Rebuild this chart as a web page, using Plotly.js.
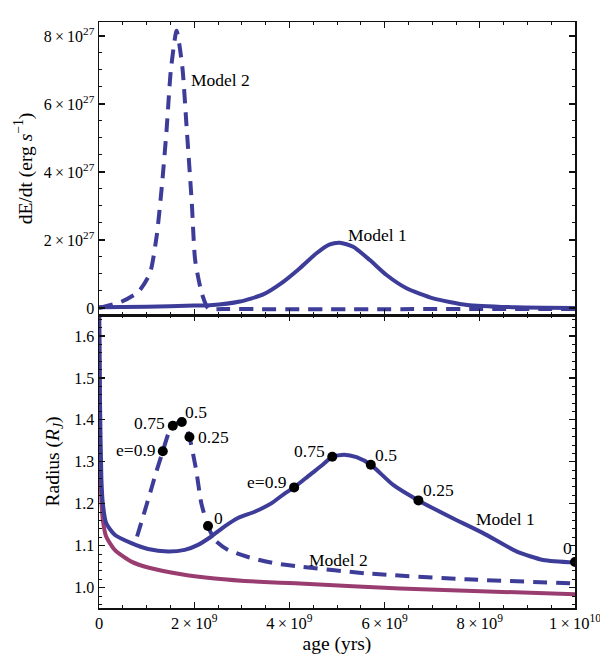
<!DOCTYPE html>
<html>
<head>
<meta charset="utf-8">
<script src="https://cdn.plot.ly/plotly-3.0.1.min.js"></script>
<style>
  html, body { margin: 0; padding: 0; background: #fff; }
  #plot { width: 600px; height: 661px; }
</style>
</head>
<body>
<div id="plot"></div>
<script>
// ---- top panel: energy deposition rate, erg/s ----
const ageM1Top = [0, 1e9, 2e9, 2.33e9, 2.96e9, 3.45e9, 3.87e9, 4.22e9, 4.57e9, 4.85e9, 5.06e9, 5.34e9, 5.69e9, 6.04e9, 6.46e9, 7.02e9, 7.73e9, 8.78e9, 1e10]
const dEM1 = [0.02e27, 0.04e27, 0.07e27, 0.08e27, 0.19e27, 0.40e27, 0.77e27, 1.17e27, 1.61e27, 1.87e27, 1.92e27, 1.80e27, 1.41e27, 0.97e27, 0.58e27, 0.285e27, 0.09e27, 0.02e27, 0.0]

const ageM2Top = [0, 0.48e9, 0.83e9, 1.07e9, 1.21e9, 1.32e9, 1.42e9, 1.51e9, 1.63e9, 1.75e9, 1.84e9, 1.95e9, 2.02e9, 2.16e9, 2.30e9, 2.6e9, 1e10]
const dEM2 = [0.0, 0.19e27, 0.48e27, 1.02e27, 2.1e27, 3.57e27, 5.24e27, 7.0e27, 8.15e27, 7.1e27, 5.33e27, 3.08e27, 1.41e27, 0.43e27, -0.02e27, -0.03e27, -0.03e27]

// ---- bottom panel: radius in Jupiter radii ----
const ageM1 = [0, 0.02e9, 0.05e9, 0.08e9, 0.15e9, 0.33e9, 0.68e9, 1.03e9, 1.45e9, 1.80e9, 2.08e9, 2.36e9, 2.64e9, 2.92e9, 3.27e9, 3.62e9, 3.87e9, 4.10e9, 4.43e9, 4.70e9, 4.90e9, 5.15e9, 5.41e9, 5.71e9, 6.18e9, 6.71e9, 7.37e9, 8.07e9, 8.78e9, 9.33e9, 1e10]
const radM1 = [1.70, 1.45, 1.26, 1.201, 1.154, 1.126, 1.106, 1.092, 1.086, 1.090, 1.102, 1.122, 1.146, 1.166, 1.181, 1.201, 1.222, 1.239, 1.269, 1.293, 1.312, 1.317, 1.311, 1.293, 1.245, 1.208, 1.169, 1.130, 1.086, 1.066, 1.060]

const ageM2 = [0.80e9, 0.92e9, 1.08e9, 1.20e9, 1.34e9, 1.46e9, 1.55e9, 1.65e9, 1.74e9, 1.82e9, 1.90e9, 2.04e9, 2.15e9, 2.29e9, 2.43e9, 2.71e9, 3.13e9, 3.69e9, 4.22e9, 5.62e9, 7.72e9, 1e10]
const radM2 = [1.122, 1.167, 1.228, 1.275, 1.325, 1.368, 1.386, 1.393, 1.395, 1.385, 1.359, 1.281, 1.201, 1.147, 1.114, 1.090, 1.073, 1.058, 1.050, 1.034, 1.020, 1.010]

const ageBase = [0, 0.02e9, 0.05e9, 0.08e9, 0.15e9, 0.33e9, 0.68e9, 1.03e9, 1.73e9, 2.43e9, 3.69e9, 4.22e9, 6.32e9, 1e10]
const radBase = [1.70, 1.35, 1.21, 1.162, 1.122, 1.090, 1.062, 1.048, 1.032, 1.022, 1.012, 1.010, 0.998, 0.984]

// eccentricity markers
const eccLabels = ['e=0.9', '0.75', '0.5', '0.25', '0']
const eccAgeM1 = [4.10e9, 4.90e9, 5.71e9, 6.71e9, 1e10]
const eccRadM1 = [1.239, 1.312, 1.293, 1.208, 1.061]
const eccAgeM2 = [1.34e9, 1.55e9, 1.74e9, 1.90e9, 2.29e9]
const eccRadM2 = [1.325, 1.386, 1.395, 1.359, 1.147]

// label anchors (age, radius) for the eccentricity text
const eccTxtAgeM1 = [3.99e9, 4.80e9, 5.76e9, 6.76e9, 9.70e9]
const eccTxtRadM1 = [1.253, 1.325, 1.317, 1.233, 1.094]
const eccTxtAgeM2 = [1.23e9, 1.43e9, 1.77e9, 2.03e9, 2.38e9]
const eccTxtRadM2 = [1.329, 1.393, 1.418, 1.359, 1.166]
const eccAnchor = ['right', 'right', 'left', 'left', 'left']

const xTicks = [0, 2e9, 4e9, 6e9, 8e9, 1e10]
const xTickText = ['0', '2\u2009×\u200910<sup>9</sup>', '4\u2009×\u200910<sup>9</sup>', '6\u2009×\u200910<sup>9</sup>', '8\u2009×\u200910<sup>9</sup>', '1\u2009×\u200910<sup>10</sup>']
const yTopTicks = [0, 2e27, 4e27, 6e27, 8e27]
const yTopText = ['0', '2\u2009×\u200910<sup>27</sup>', '4\u2009×\u200910<sup>27</sup>', '6\u2009×\u200910<sup>27</sup>', '8\u2009×\u200910<sup>27</sup>']

const blue = 'rgb(61,61,153)'
const purple = 'rgb(153,61,113)'
const dash = '14px,9px'
const serif = "'Liberation Serif', 'Times New Roman', serif"

const traces = [
    { x: ageBase, y: radBase, xaxis: 'x', yaxis: 'y', mode: 'lines', line: { color: purple, width: 4, shape: 'spline', smoothing: 0.6 } },
    { x: ageM1, y: radM1, xaxis: 'x', yaxis: 'y', mode: 'lines', line: { color: blue, width: 4, shape: 'spline', smoothing: 0.6 } },
    { x: ageM2, y: radM2, xaxis: 'x', yaxis: 'y', mode: 'lines', line: { color: blue, width: 4, dash: dash, shape: 'spline', smoothing: 0.6 } },
    { x: eccAgeM1.concat(eccAgeM2), y: eccRadM1.concat(eccRadM2), xaxis: 'x', yaxis: 'y', mode: 'markers', marker: { color: 'black', size: 10 } },
    { x: ageM1Top, y: dEM1, xaxis: 'x2', yaxis: 'y2', mode: 'lines', line: { color: blue, width: 4, shape: 'spline', smoothing: 0.6 } },
    { x: ageM2Top, y: dEM2, xaxis: 'x2', yaxis: 'y2', mode: 'lines', line: { color: blue, width: 4, dash: dash, shape: 'spline', smoothing: 0.6 } }
]

const annotations = []
eccLabels.forEach(function (t, i) {
    annotations.push({ x: eccTxtAgeM1[i], y: eccTxtRadM1[i], xref: 'x', yref: 'y', text: t, showarrow: false, xanchor: eccAnchor[i], yanchor: 'middle' })
    annotations.push({ x: eccTxtAgeM2[i], y: eccTxtRadM2[i], xref: 'x', yref: 'y', text: t, showarrow: false, xanchor: eccAnchor[i], yanchor: 'middle' })
})
annotations.push({ x: 7.88e9, y: 1.163, xref: 'x', yref: 'y', text: 'Model 1', showarrow: false, xanchor: 'left', yanchor: 'middle' })
annotations.push({ x: 4.37e9, y: 1.066, xref: 'x', yref: 'y', text: 'Model 2', showarrow: false, xanchor: 'left', yanchor: 'middle' })
annotations.push({ x: 5.18e9, y: 2.15e27, xref: 'x2', yref: 'y2', text: 'Model 1', showarrow: false, xanchor: 'left', yanchor: 'middle' })
annotations.push({ x: 1.89e9, y: 6.71e27, xref: 'x2', yref: 'y2', text: 'Model 2', showarrow: false, xanchor: 'left', yanchor: 'middle' })

const frame = {
    showline: true, linecolor: '#111', linewidth: 1.5, mirror: 'ticks',
    ticks: 'inside', ticklen: 6, tickwidth: 1.2, tickcolor: '#111',
    showgrid: false, zeroline: false
}
const xMinor = { ticks: 'inside', ticklen: 3, tickcolor: '#111', tickwidth: 1, tickmode: 'linear', tick0: 0, dtick: 5e8, showgrid: false }

const layout = {
    width: 600, height: 661,
    margin: { l: 99, r: 25, t: 22, b: 53 },
    paper_bgcolor: 'white', plot_bgcolor: 'white',
    showlegend: false,
    font: { family: serif, size: 17.5, color: 'black' },
    xaxis: Object.assign({}, frame, {
        anchor: 'y', range: [0, 1e10], tickmode: 'array', tickvals: xTicks, ticktext: xTickText,
        tickfont: { size: 16.5 }, ticklabeloverflow: 'allow', minor: xMinor,
        title: { text: 'age (yrs)', font: { size: 19.5 }, standoff: 3 }
    }),
    xaxis2: Object.assign({}, frame, {
        anchor: 'y2', matches: 'x', range: [0, 1e10], tickmode: 'array', tickvals: xTicks,
        showticklabels: false, minor: xMinor
    }),
    yaxis: Object.assign({}, frame, {
        anchor: 'x', domain: [0, 0.5], range: [0.9515, 1.65], tickmode: 'linear', tick0: 1.0, dtick: 0.1,
        tickformat: '.1f', tickfont: { size: 16 },
        minor: { ticks: 'inside', ticklen: 3, tickcolor: '#111', tickwidth: 1, tickmode: 'linear', tick0: 1.0, dtick: 0.02, showgrid: false },
        title: { text: 'Radius (<i>R</i><sub><i>J</i></sub>)', font: { size: 19.5 }, standoff: 9 }
    }),
    yaxis2: Object.assign({}, frame, {
        anchor: 'x2', domain: [0.5, 1], range: [-0.206e27, 8.41e27], tickmode: 'array', tickvals: yTopTicks, ticktext: yTopText,
        tickfont: { size: 16 },
        minor: { ticks: 'inside', ticklen: 3, tickcolor: '#111', tickwidth: 1, tickmode: 'linear', tick0: 0, dtick: 0.5e27, showgrid: false },
        title: { text: 'dE/dt (erg <i>s</i><sup>−1</sup>)', font: { size: 19.5 }, standoff: 6 }
    }),
    annotations: annotations
}

Plotly.newPlot('plot', traces, layout, { staticPlot: true, displayModeBar: false })
</script>
</body>
</html>
